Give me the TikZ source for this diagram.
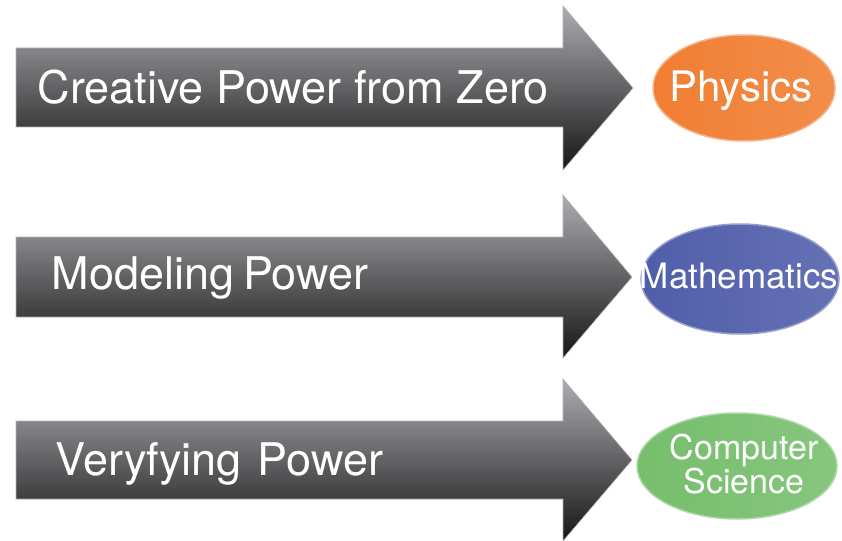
\documentclass[tikz,border=0pt]{standalone}
\usepackage{fontspec}
\setmainfont{TeX Gyre Heros}
\definecolor{arrowtop}{RGB}{172,173,177}
\definecolor{arrowbot}{RGB}{22,22,22}
\definecolor{physorange}{RGB}{240,126,50}
\definecolor{mathblue}{RGB}{80,94,170}
\definecolor{csgreen}{RGB}{118,190,108}

\begin{document}
\begin{tikzpicture}[x=1pt,y=-1pt,
bigarrow/.style ={top color=arrowtop, bottom color=arrowbot, draw=gray!60, line width=0.6pt},
power/.style ={anchor=base west, text=white, font=\fontsize{45}{48}\selectfont},
blob/.style ={left color=#1, right color=#1!88!white, draw=#1!60!white, line width=1.5pt},
field/.style ={anchor=base, text=white, inner sep=0pt, align=center}]
\useasboundingbox (0,0) rectangle (842,540);
% arrows
\path[bigarrow] (16,48) -- (563,48) -- (563,6) -- (633,88) -- (563,170) -- (563,127) -- (16,127) -- cycle;
\path[bigarrow] (16,237) -- (563,237) -- (563,195) -- (632,277) -- (563,358) -- (563,317) -- (16,317) -- cycle;
\path[bigarrow] (16,421) -- (563,421) -- (563,379) -- (632,460) -- (563,541) -- (563,499) -- (16,499) -- cycle;
\node[power] (creative) at (34,104) {Creative Power from Zero};
\node[power] (modeling) at (48,289) {Modeling\hspace{0.2em}Power};
\node[power] (verify) at (52,475) {Veryfying\hspace{0.35em}Power};
% fields
\path[blob=physorange] (744,88) ellipse [x radius=91, y radius=53];
\path[blob=mathblue] (740,279) ellipse [x radius=99, y radius=55];
\path[blob=csgreen] (737,466) ellipse [x radius=100, y radius=53];
\node[field, font=\fontsize{42}{44}\selectfont] (phys) at (741,102) {Physics};
\node[field, font=\fontsize{35}{36}\selectfont] (math) at (739,288) {Mathematics};
\node[field, font=\fontsize{34}{34}\selectfont] (cs) at (744,493) {Computer\\Science};
\end{tikzpicture}
\end{document}
